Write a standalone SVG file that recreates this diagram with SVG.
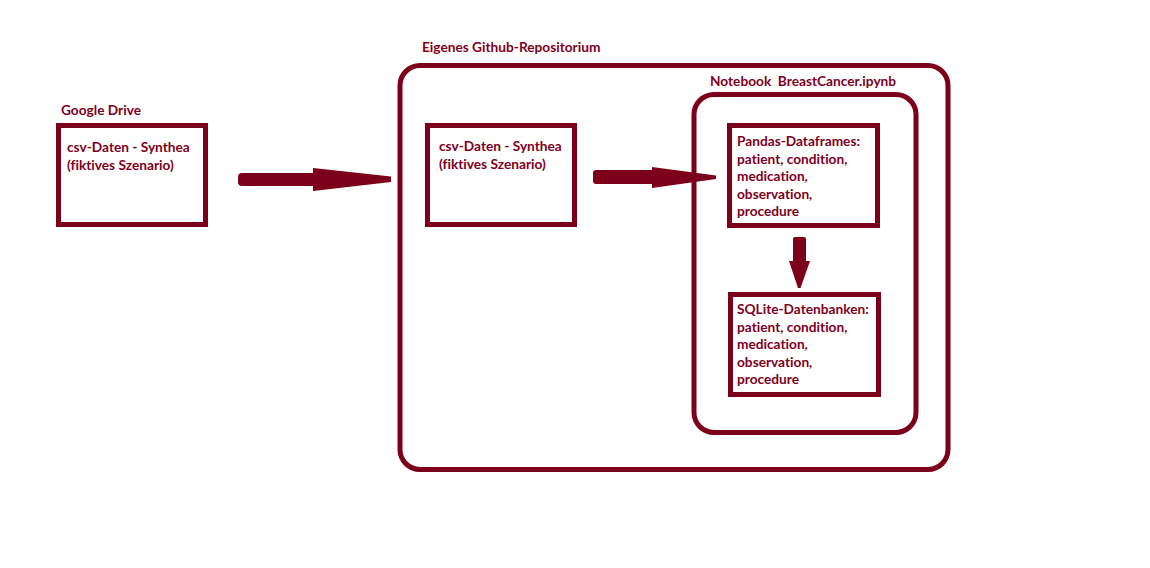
<svg xmlns="http://www.w3.org/2000/svg" width="1150" height="568" viewBox="0 0 1150 568">
<style>
.box{fill:none;stroke:#7c0019;stroke-width:5}
.t{font-family:Lato,"Liberation Sans",sans-serif;font-weight:bold;font-size:13.7px;fill:#800020;font-variant-ligatures:none}
.arr{fill:#7c0019}
</style>
<rect width="1150" height="568" fill="#ffffff"/>
<g id="google-drive">
<text class="t" x="61" y="115">Google Drive</text>
<rect class="box" x="58.5" y="125.5" width="147" height="99"/>
<text class="t" x="67" y="152">csv-Daten - Synthea</text>
<text class="t" x="67" y="170">(fiktives Szenario)</text>
</g>
<g id="github-repo">
<rect class="box" x="400" y="65.5" width="548" height="404" rx="20"/>
<text class="t" x="422" y="52">Eigenes Github-Repositorium</text>
</g>
<g id="repo-csv">
<rect class="box" x="427.5" y="125.5" width="147" height="99"/>
<text class="t" x="439" y="151">csv-Daten - Synthea</text>
<text class="t" x="439" y="169">(fiktives Szenario)</text>
</g>
<g id="notebook">
<rect class="box" x="694" y="94.5" width="222" height="338" rx="20"/>
<text class="t" x="710" y="86" xml:space="preserve">Notebook  BreastCancer.ipynb</text>
</g>
<g id="pandas">
<rect class="box" x="729.5" y="125.5" width="148" height="100"/>
<text class="t" x="737" y="146">Pandas-Dataframes:</text>
<text class="t" x="737" y="164">patient, condition,</text>
<text class="t" x="737" y="181">medication,</text>
<text class="t" x="737" y="199">observation,</text>
<text class="t" x="737" y="216">procedure</text>
</g>
<g id="sqlite">
<rect class="box" x="730.5" y="294.5" width="148" height="100"/>
<text class="t" x="737" y="314">SQLite-Datenbanken:</text>
<text class="t" x="737" y="332">patient, condition,</text>
<text class="t" x="737" y="349">medication,</text>
<text class="t" x="737" y="367">observation,</text>
<text class="t" x="737" y="384">procedure</text>
</g>
<g id="connectors">
<path class="arr" d="M242,173 L313,173 L313,168 L391,176.5 L391,182 L313,191 L313,186 L242,186 A4,4 0 0 1 238,182 L238,177 A4,4 0 0 1 242,173 Z"/>
<path class="arr" d="M596,170 L652,170 L652,167 L716,175.5 L716,179 L652,188 L652,184 L596,184 A3,3 0 0 1 593,181 L593,173 A3,3 0 0 1 596,170 Z"/>
<path class="arr" d="M793,239 A2,2 0 0 1 795,237 L804,237 A2,2 0 0 1 806,239 L806,261 L810,261 L800.5,288 L798,288 L789,261 L793,261 Z"/>
</g>
</svg>
